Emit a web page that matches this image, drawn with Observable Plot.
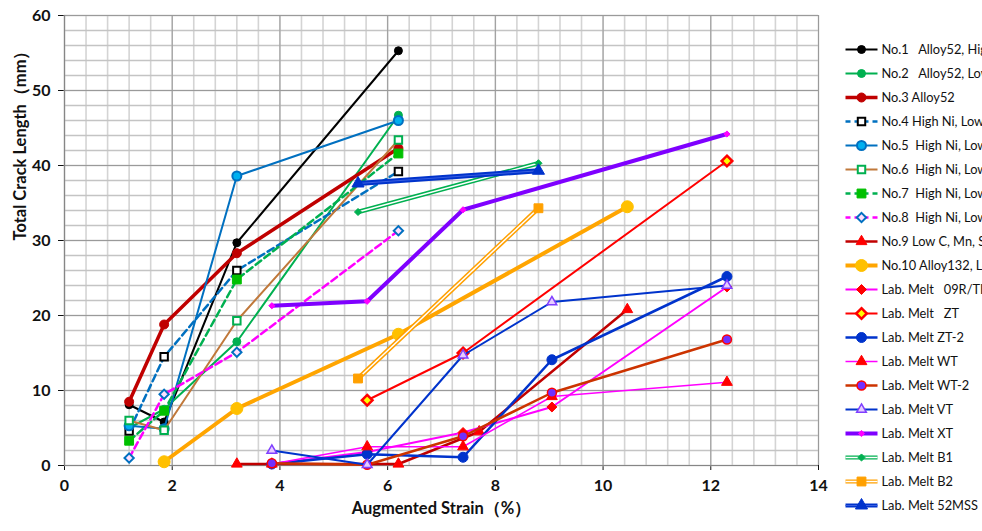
<!DOCTYPE html>
<html>
<head>
<meta charset="utf-8">
<script src="https://cdn.jsdelivr.net/npm/d3@7"></script>
<script src="https://cdn.jsdelivr.net/npm/@observablehq/plot@0.6"></script>
<style>
  body { margin: 0; background: #fff; font-family: Lato, "Open Sans", sans-serif; }
  #wrap { position: relative; width: 982px; height: 531px; overflow: hidden; }
  #legend { position: absolute; left: 826px; top: 0; }
  #legend text { white-space: pre; }
</style>
</head>
<body>
<div id="wrap"><div id="chart"></div><div id="legend"></div></div>
<script>
// ---- data (strain %, total crack length mm) ----
const xTicks = [0, 2, 4, 6, 8, 10, 12, 14];
const yTicks = [0, 10, 20, 30, 40, 50, 60];
const xTitle = "Augmented Strain（%）";
const yTitle = "Total Crack Length（mm）";

const names = [
  "No.1   Alloy52, High",
  "No.2   Alloy52, Low",
  "No.3 Alloy52",
  "No.4 High Ni, Low",
  "No.5  High Ni, Low",
  "No.6  High Ni, Low",
  "No.7  High Ni, Low",
  "No.8  High Ni, Low",
  "No.9 Low C, Mn, S",
  "No.10 Alloy132, Low",
  "Lab. Melt   09R/TI",
  "Lab. Melt   ZT",
  "Lab. Melt ZT-2",
  "Lab. Melt WT",
  "Lab. Melt WT-2",
  "Lab. Melt VT",
  "Lab. Melt XT",
  "Lab. Melt B1",
  "Lab. Melt B2",
  "Lab. Melt 52MSS"
];

const no1   = [[1.2, 8.1], [1.85, 5.8], [3.2, 29.7], [6.2, 55.3]];
const no2   = [[1.2, 5.0], [1.85, 7.5], [3.2, 16.5], [6.2, 46.7]];
const no3   = [[1.2, 8.5], [1.85, 18.8], [3.2, 28.3], [6.2, 42.3]];
const no4   = [[1.2, 4.6], [1.85, 14.5], [3.2, 26.0], [6.2, 39.2]];
const no5   = [[1.2, 5.3], [1.85, 4.9], [3.2, 38.6], [6.2, 46.0]];
const no6   = [[1.2, 6.0], [1.85, 4.7], [3.2, 19.3], [6.2, 43.4]];
const no7   = [[1.2, 3.3], [1.85, 7.3], [3.2, 24.8], [6.2, 41.6]];
const no8   = [[1.2, 1.0], [1.85, 9.5], [3.2, 15.1], [6.2, 31.3]];
const no9   = [[3.2, 0.2], [6.2, 0.2], [7.7, 4.5], [10.45, 20.8]];
const no10  = [[1.85, 0.5], [3.2, 7.6], [6.2, 17.5], [10.45, 34.5]];
const m09R  = [[3.85, 0.2], [5.62, 1.8], [7.4, 4.4], [9.05, 7.8], [12.3, 23.8]];
const mZT   = [[5.62, 8.7], [7.4, 15.0], [12.3, 40.6]];
const mZT2  = [[3.85, 0.2], [5.62, 1.5], [7.4, 1.1], [9.05, 14.1], [12.3, 25.2]];
const mWT   = [[3.85, 0.2], [5.62, 2.5], [7.4, 2.5], [9.05, 9.2], [12.3, 11.1]];
const mWT2  = [[3.85, 0.3], [5.62, 0.1], [7.4, 3.9], [9.05, 9.7], [12.3, 16.8]];
const mVT   = [[3.85, 2.0], [5.62, 0.1], [7.4, 14.7], [9.05, 21.8], [12.3, 24.0]];
const mXT   = [[3.85, 21.3], [5.62, 21.9], [7.4, 34.1], [12.3, 44.2]];
const mB1   = [[5.45, 33.8], [8.8, 40.3]];
const mB2   = [[5.45, 11.6], [8.8, 34.3]];
const m52   = [[5.45, 37.6], [8.8, 39.3]];

const seriesData = [no1, no2, no3, no4, no5, no6, no7, no8, no9, no10,
                    m09R, mZT, mZT2, mWT, mWT2, mVT, mXT, mB1, mB2, m52];

// ---- styles ----
const styles = [
  {line: "#000000", w: 2,   sym: "circle",   r: 4,   fill: "#000000", stroke: "#000000", sw: 1},
  {line: "#00B050", w: 2,   sym: "circle",   r: 4,   fill: "#00B050", stroke: "#00B050", sw: 1},
  {line: "#C00000", w: 3.5, sym: "circle",   r: 4.5, fill: "#C00000", stroke: "#C00000", sw: 1},
  {line: "#0070C0", w: 2.5, dash: "7,4", sym: "square", r: 4.2, fill: "#ffffff", stroke: "#000000", sw: 2},
  {line: "#0070C0", w: 2,   sym: "circle",   r: 4.5, fill: "#00B0F0", stroke: "#0070C0", sw: 2},
  {line: "#C0783A", w: 2,   sym: "square",   r: 4.2, fill: "#ffffff", stroke: "#00B050", sw: 2},
  {line: "#00B050", w: 2.5, dash: "7,4", sym: "square", r: 5, fill: "#00C000", stroke: "#00C000", sw: 1},
  {line: "#FF00FF", w: 2.5, dash: "7,4", sym: "diamond2", r: 4.2, fill: "#FFE0FF", stroke: "#0070C0", sw: 2},
  {line: "#C00000", w: 2.5, sym: "triangle", r: 4,   fill: "#FF0000", stroke: "#FF0000", sw: 1},
  {line: "#FFA500", w: 4,   sym: "circle",   r: 6,   fill: "#FFC000", stroke: "#FFC000", sw: 1},
  {line: "#FF00FF", w: 2,   sym: "diamond2", r: 4.5, fill: "#FF0000", stroke: "#FF0000", sw: 1},
  {line: "#FF0000", w: 2,   sym: "diamond2", r: 4.8, fill: "#FFFF00", stroke: "#FF0000", sw: 2.5},
  {line: "#0033CC", w: 2.5, sym: "circle",   r: 5,   fill: "#0033CC", stroke: "#0033CC", sw: 1},
  {line: "#FF00FF", w: 1.5, sym: "triangle", r: 4,   fill: "#FF0000", stroke: "#FF0000", sw: 1},
  {line: "#CC3300", w: 2.5, sym: "circle",   r: 4.5, fill: "#7030FF", stroke: "#FF0000", sw: 1.5},
  {line: "#0033CC", w: 2,   sym: "triangle", r: 3.6, fill: "#E6CCFF", stroke: "#7F3FFF", sw: 1.5},
  {line: "#7F00FF", w: 4,   sym: "diamond2", r: 2.8, fill: "#FF00FF", stroke: "#FF00FF", sw: 1},
  {line: "#00B050", w: 4.5, inner: "#ffffff", iw: 1.5, sym: "diamond2", r: 3.2, fill: "#00B050", stroke: "#00B050", sw: 1},
  {line: "#FFA000", w: 4.5, inner: "#ffffff", iw: 1.5, sym: "square", r: 5, fill: "#FFA000", stroke: "#FFA000", sw: 1},
  {line: "#0033CC", w: 5,   inner: "#3a5fe0", iw: 1, sym: "triangle", r: 4.5, fill: "#0033CC", stroke: "#0033CC", sw: 1}
];

const FONT = "Lato, 'Open Sans', sans-serif";

// ---- main chart ----
const minorX = d3.range(0, 14.001, 0.4);
const minorY = d3.range(0, 60.001, 2);

const marks = [
  Plot.ruleX(minorX, {stroke: "#d4d4d4", strokeWidth: 1.6}),
  Plot.ruleY(minorY, {stroke: "#c4c4c4", strokeWidth: 1.3}),
  Plot.ruleX(xTicks, {stroke: "#9a9a9a", strokeWidth: 1}),
  Plot.ruleY(yTicks, {stroke: "#9a9a9a", strokeWidth: 1}),
  Plot.ruleX([0], {stroke: "#868686", strokeWidth: 1.2}),
  Plot.ruleY([0], {stroke: "#868686", strokeWidth: 1.2})
];

seriesData.forEach((data, i) => {
  const s = styles[i];
  marks.push(Plot.line(data, {
    x: d => d[0], y: d => d[1], stroke: s.line, strokeWidth: s.w,
    strokeDasharray: s.dash, strokeLinejoin: "round", strokeLinecap: "round"
  }));
  if (s.inner) {
    marks.push(Plot.line(data, {x: d => d[0], y: d => d[1], stroke: s.inner, strokeWidth: s.iw}));
  }
  marks.push(Plot.dot(data, {
    x: d => d[0], y: d => d[1], symbol: s.sym, r: s.r,
    fill: s.fill, stroke: s.stroke, strokeWidth: s.sw
  }));
});

marks.push(
  Plot.text([xTitle], {text: d => d, frameAnchor: "bottom", dy: 48, fontSize: 16.5, fontWeight: "bold", fill: "#111"}),
  Plot.text([yTitle], {text: d => d, frameAnchor: "left", dx: -44, rotate: -90, fontSize: 16.5, fontWeight: "bold", fill: "#111"})
);

const chart = Plot.plot({
  width: 982,
  height: 531,
  marginLeft: 64,
  marginRight: 164,
  marginTop: 15,
  marginBottom: 66,
  style: {fontFamily: FONT, fontSize: "16px", fontWeight: "bold", color: "#111", background: "transparent", overflow: "visible"},
  x: {domain: [0, 14], ticks: xTicks, tickSize: 5, tickPadding: 9, label: null},
  y: {domain: [0, 60], ticks: yTicks, tickSize: 6, tickPadding: 8, label: null},
  marks
});
document.getElementById("chart").appendChild(chart);

// ---- legend ----
const lmarks = [];
names.forEach((name, i) => {
  const s = styles[i];
  const row = [name];
  lmarks.push(Plot.link(row, {x1: () => 0, x2: () => 1, y1: d => d, y2: d => d,
    stroke: s.line, strokeWidth: Math.min(s.w, 4), strokeDasharray: s.dash ? "5,4" : undefined}));
  if (s.inner) lmarks.push(Plot.link(row, {x1: () => 0, x2: () => 1, y1: d => d, y2: d => d, stroke: s.inner, strokeWidth: s.iw}));
  lmarks.push(Plot.dot(row, {x: () => 0.5, y: d => d, symbol: s.sym, r: s.r,
    fill: s.fill, stroke: s.stroke, strokeWidth: s.sw}));
  lmarks.push(Plot.text(row, {x: () => 1, y: d => d, text: d => d, textAnchor: "start", dx: 4,
    fontSize: 12.8, fill: "#111"}));
});

const legend = Plot.plot({
  width: 156,
  height: 531,
  margin: 0,
  style: {fontFamily: FONT, background: "transparent"},
  x: {domain: [0, 1], range: [19, 51], axis: null},
  y: {type: "point", domain: names, range: [30.7, 522.8], axis: null},
  marks: lmarks
});
document.getElementById("legend").appendChild(legend);
</script>
</body>
</html>
